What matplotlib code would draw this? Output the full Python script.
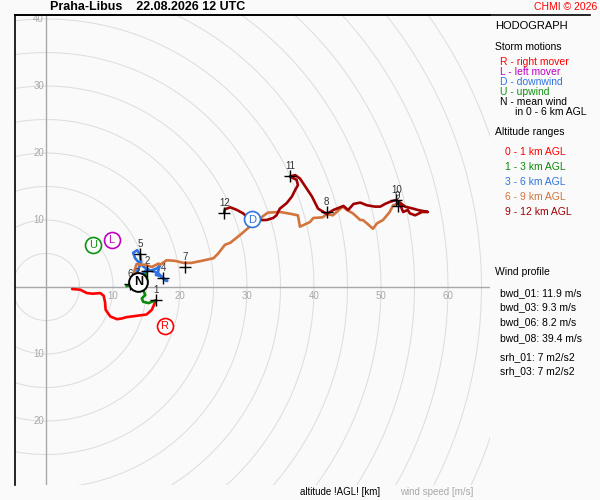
import numpy as np
import matplotlib
matplotlib.use('Agg')
import matplotlib.pyplot as plt
from matplotlib.lines import Line2D

plt.rcParams['font.family'] = ['Liberation Sans', 'DejaVu Sans']

# hodograph segments, u / v in m/s
u_0_1 = [3.9, 5.1, 6.1, 7.0, 8.1, 8.6, 8.8, 8.9, 9.6, 10.6, 11.3, 12.0, 13.5, 15.0, 15.8, 16.4]
v_0_1 = [-0.3, -0.4, -0.9, -1.0, -0.9, -1.3, -2.2, -3.4, -4.4, -4.8, -4.7, -4.5, -4.3, -4.1, -3.4, -2.0]

u_1_3 = [16.4, 15.8, 15.3, 14.5, 14.3, 14.8, 14.5, 14.8, 15.1, 15.0, 15.1, 14.3, 13.6, 12.5, 12.0, 13.1]
v_1_3 = [-2.0, -2.2, -2.4, -2.2, -1.7, -1.2, -0.4, 0.3, 1.0, 2.1, 2.4, 1.2, 0.6, 0.3, 0.15, 0.5]

u_3_6 = [13.1, 14.0, 14.9, 15.8, 16.6, 17.0, 16.7, 16.4, 17.2, 17.8, 18.1, 17.5, 16.7, 15.5, 14.6,
         13.9, 13.3, 13.0, 13.6, 14.0, 14.2, 13.7, 13.0, 12.5]
v_3_6 = [0.5, 1.6, 2.5, 2.5, 2.8, 3.3, 2.2, 1.8, 1.6, 1.0, 0.9, 1.3, 2.1, 2.5, 3.0,
         3.6, 4.3, 5.1, 5.5, 4.9, 3.7, 2.5, 1.3, 0.4]

u_6_9 = [12.5, 13.0, 13.5, 14.8, 15.8, 16.8, 17.0, 18.0, 19.3, 20.5, 21.7, 23.2, 25.0, 25.7, 26.7,
         27.5, 29.0, 30.4, 31.6, 33.1, 34.9, 36.1, 37.6, 37.9, 39.4, 39.9, 41.3, 41.9, 42.8, 44.3,
         44.9, 45.8, 46.9, 47.3, 47.9, 48.8, 49.4, 50.3, 51.3, 51.8, 52.4]
v_6_9 = [0.4, 1.8, 3.4, 3.3, 3.0, 3.5, 3.3, 4.0, 3.9, 3.6, 3.6, 3.9, 4.3, 5.0, 6.3,
         6.6, 7.8, 9.0, 10.0, 11.1, 11.2, 11.0, 10.7, 9.0, 9.7, 10.3, 10.4, 10.9, 10.7, 12.0,
         11.5, 11.0, 10.0, 10.0, 9.5, 8.7, 9.5, 10.0, 11.2, 12.2, 12.4]

u_9_12 = [52.4, 52.8, 53.1, 53.3, 54.0, 54.3, 55.1, 56.1, 57.0, 55.5, 54.8, 53.6, 52.3, 51.3, 50.6,
          49.9, 49.1, 47.9, 46.9, 45.9, 45.1, 44.4, 42.9, 41.9, 40.6, 39.7, 38.7, 37.9, 37.2, 36.4,
          37.4, 37.6, 37.2, 36.7, 35.9, 34.9, 34.4, 33.9, 32.9, 31.9, 30.9, 30.0, 29.4, 28.5, 27.5,
          26.7, 26.6]
v_9_12 = [12.4, 12.5, 11.7, 11.2, 11.5, 11.0, 10.7, 11.2, 11.2, 11.5, 11.7, 12.0, 13.0, 12.7, 12.4,
          12.0, 12.0, 12.2, 12.6, 12.4, 11.5, 12.1, 11.5, 10.9, 11.7, 13.5, 15.0, 16.2, 16.7, 16.5,
          16.0, 15.2, 14.5, 13.5, 12.5, 11.7, 10.7, 10.3, 10.0, 10.0, 10.5, 10.5, 11.0, 11.5, 11.9,
          11.6, 11.1]

# height marks 1..12 km
h_km = [1, 2, 3, 4, 5, 6, 7, 8, 9, 10, 11, 12]
h_u = [16.4, 15.1, 13.6, 17.5, 14.0, 12.5, 20.7, 41.9, 52.5, 52.3, 36.4, 26.6]
h_v = [-2.0, 2.4, 0.6, 1.3, 4.9, 0.4, 3.0, 11.2, 12.1, 13.0, 16.5, 11.1]

# storm motions
sm_name = ['R', 'L', 'U', 'D']
sm_u = [17.7, 9.8, 7.0, 30.7]
sm_v = [-5.8, 7.0, 6.3, 10.1]
sm_col = ['#ff0000', '#c000c0', '#109010', '#2f74e0']
mean_u, mean_v = 13.8, 0.8

layers = [(u_0_1, v_0_1, '#ff0000'), (u_1_3, v_1_3, '#0a8a0a'), (u_3_6, v_3_6, '#2f74e0'),
          (u_6_9, v_6_9, '#d2743c'), (u_9_12, v_9_12, '#a00000')]

ring_speeds = np.arange(5, 75, 5)
xtick_vals = [10, 20, 30, 40, 50, 60]
ytick_vals = [40, 30, 20, 10, -10, -20]

bg = '#fafafa'
fig = plt.figure(figsize=(6, 5), dpi=100, facecolor=bg)
ax = fig.add_axes([15/600, 15/500, 475/600, 470/500], facecolor=bg)
ax.set_xlim(-4.63, 66.27)
ax.set_ylim(-29.55, 40.6)
for s in ['right', 'bottom']:
    ax.spines[s].set_visible(False)
for s in ['left', 'top']:
    ax.spines[s].set_color('black')
    ax.spines[s].set_linewidth(1.2)
ax.set_xticks([])
ax.set_yticks([])
# top frame line continues over the side panel
fig.add_artist(Line2D([15/600, 590/600], [1 - 15/500, 1 - 15/500], color='black', lw=1.2))

t = np.linspace(0, 2*np.pi, 400)
for r in ring_speeds:
    ax.plot(r*np.cos(t), r*np.sin(t), color='#dedede', lw=0.75, zorder=1)
ax.axhline(0, color='#a8a8a8', lw=1, zorder=2)
ax.axvline(0, color='#a8a8a8', lw=1, zorder=2)
for x in xtick_vals:
    ax.text(x, -1.35, str(x), color='#a8a8a8', fontsize=7, ha='center', va='center', zorder=2)
for y in ytick_vals:
    ax.text(-0.3, y, str(abs(y)), color='#a8a8a8', fontsize=7, ha='right', va='center', zorder=2)

for u, v, c in layers:
    ax.plot(u, v, color=c, lw=1.9, solid_joinstyle='round', solid_capstyle='round', zorder=3)

ax.plot(h_u, h_v, '+', color='black', ms=9, mew=1, zorder=4)
for h, u, v in zip(h_km, h_u, h_v):
    ax.text(u, v + 1.5, str(h), color='#333333', fontsize=7, ha='center', va='center', zorder=4)

for n, u, v, c in zip(sm_name, sm_u, sm_v, sm_col):
    ax.plot(u, v, 'o', ms=11.5, mfc='white', mec=c, mew=1.2, zorder=5)
    ax.text(u, v - 0.05, n, color=c, fontsize=8, ha='center', va='center', zorder=6)
ax.plot(mean_u, mean_v, 'o', ms=13.5, mfc='white', mec='black', mew=1.4, zorder=5)
ax.text(mean_u, mean_v - 0.05, 'N', color='black', fontsize=9, fontweight='bold',
        ha='center', va='center', zorder=6)

def ftext(px, py, s, **kw):
    fig.text(px/600, 1 - py/500, s, va='center', **kw)

ftext(50, 7, 'Praha-Libus    22.08.2026 12 UTC', fontsize=9, fontweight='bold')
ftext(597, 7, 'CHMI \u00a9 2026', fontsize=7.5, color='#ff0000', ha='right')

ftext(495, 26, 'HODOGRAPH', fontsize=8)
ftext(495, 47, 'Storm motions', fontsize=7.5)
legend_sm = [('R - right mover', '#ff0000'), ('L - left mover', '#c000c0'),
             ('D - downwind', '#2f74e0'), ('U - upwind', '#109010'), ('N - mean wind', 'black')]
for i, (s, c) in enumerate(legend_sm):
    ftext(500, 62 + 10*i, s, fontsize=7.5, color=c)
ftext(515, 112, 'in 0 - 6 km AGL', fontsize=7.5)

ftext(495, 132, 'Altitude ranges', fontsize=7.5)
alt_names = ['0 - 1 km AGL', '1 - 3 km AGL', '3 - 6 km AGL', '6 - 9 km AGL', '9 - 12 km AGL']
for i, (s, (_, _, c)) in enumerate(zip(alt_names, layers)):
    ftext(505, 152 + 15*i, s, fontsize=7.5, color=c)

ftext(495, 272, 'Wind profile', fontsize=7.5)
params = ['bwd_01: 11.9 m/s', 'bwd_03: 9.3 m/s', 'bwd_06: 8.2 m/s', 'bwd_08: 39.4 m/s']
params_y = [293, 307, 322, 338]
for s, y in zip(params, params_y):
    ftext(500, y, s, fontsize=7.5)
ftext(500, 357, 'srh_01: 7 m2/s2', fontsize=7.5)
ftext(500, 371, 'srh_03: 7 m2/s2', fontsize=7.5)

ftext(300, 492, 'altitude !AGL! [km]', fontsize=7)
ftext(400, 492, 'wind speed [m/s]', fontsize=7, color='#a8a8a8')

fig.savefig('out.png', dpi=100, facecolor=bg)
